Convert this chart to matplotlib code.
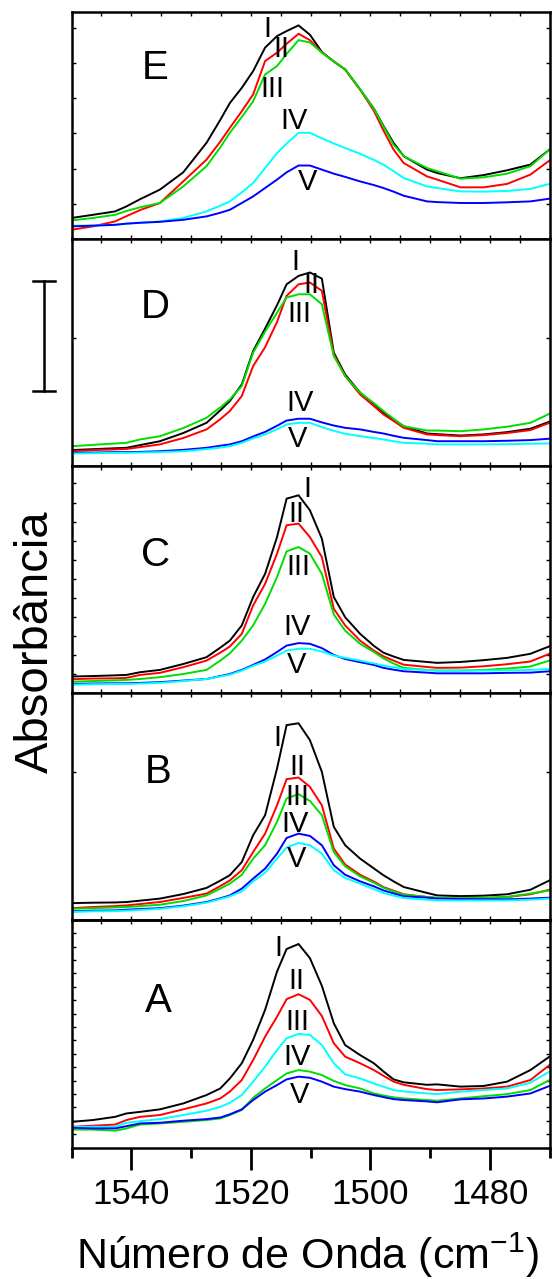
import matplotlib
matplotlib.use("Agg")
import matplotlib.pyplot as plt
from matplotlib.ticker import MultipleLocator, FixedLocator
from matplotlib.lines import Line2D

REG = "Liberation Sans"
plt.rcParams['font.family'] = [REG, 'DejaVu Sans']
plt.rcParams['mathtext.fontset'] = 'custom'
plt.rcParams['mathtext.rm'] = REG
plt.rcParams['mathtext.it'] = REG

# wavenumber grid (cm-1)
wn = [1550, 1546.4, 1542.7, 1540.8, 1538.5, 1535.2, 1531.3, 1527.4, 1525.1, 1523.5,
      1521.5, 1519.6, 1517.6, 1515.6, 1514.0, 1512.0, 1510.1, 1508.1, 1506.1, 1504.2,
      1501.7, 1499.4, 1497.8, 1496.1, 1494.4, 1490.5, 1488.8, 1484.9, 1481.0, 1477.1,
      1473.2, 1470.0]

# Panel E
E_black = [0.093,0.107,0.122,0.144,0.176,0.218,0.294,0.424,0.525,0.599,0.666,0.740,0.843,0.894,0.916,0.941,
           0.900,0.824,0.782,0.747,0.659,0.575,0.499,0.424,0.365,0.306,0.291,0.268,0.282,0.303,0.328,0.394]
E_red = [0.041,0.056,0.078,0.101,0.128,0.159,0.254,0.350,0.429,0.490,0.563,0.637,0.784,0.821,0.860,0.904,
         0.876,0.822,0.782,0.747,0.659,0.565,0.479,0.394,0.335,0.276,0.262,0.228,0.228,0.243,0.284,0.346]
E_green = [0.082,0.093,0.107,0.124,0.140,0.159,0.232,0.321,0.404,0.468,0.538,0.607,0.725,0.762,0.815,0.876,
           0.866,0.821,0.782,0.747,0.660,0.574,0.496,0.416,0.365,0.313,0.299,0.266,0.272,0.288,0.321,0.394]
E_cyan = [0.059,0.060,0.063,0.068,0.072,0.078,0.093,0.122,0.147,0.166,0.206,0.247,0.313,0.379,0.421,0.468,
          0.468,0.444,0.421,0.401,0.376,0.349,0.328,0.299,0.269,0.232,0.225,0.210,0.209,0.212,0.221,0.243]
E_blue = [0.056,0.059,0.063,0.068,0.072,0.076,0.085,0.100,0.116,0.129,0.159,0.188,0.225,0.262,0.294,0.324,
          0.324,0.306,0.288,0.274,0.254,0.238,0.225,0.209,0.191,0.166,0.163,0.159,0.159,0.162,0.166,0.178]

# Panel D
D_black = [0.071,0.075,0.079,0.081,0.093,0.110,0.146,0.191,0.246,0.287,0.360,0.507,0.606,0.709,0.801,0.838,
           0.853,0.826,0.500,0.404,0.324,0.274,0.235,0.206,0.176,0.144,0.141,0.135,0.140,0.150,0.165,0.196]
D_red = [0.066,0.071,0.074,0.076,0.084,0.096,0.124,0.162,0.207,0.243,0.309,0.441,0.524,0.635,0.750,0.801,
         0.809,0.772,0.493,0.397,0.316,0.265,0.228,0.199,0.169,0.140,0.137,0.132,0.137,0.146,0.159,0.191]
D_green = [0.088,0.094,0.100,0.103,0.118,0.132,0.168,0.213,0.259,0.294,0.353,0.500,0.593,0.676,0.743,0.757,
           0.757,0.713,0.485,0.397,0.324,0.278,0.243,0.209,0.176,0.157,0.157,0.154,0.162,0.174,0.191,0.231]
D_blue = [0.059,0.060,0.062,0.062,0.063,0.066,0.072,0.081,0.090,0.096,0.110,0.131,0.151,0.178,0.201,0.209,
          0.209,0.193,0.179,0.169,0.162,0.151,0.144,0.134,0.125,0.115,0.110,0.110,0.110,0.112,0.115,0.121]
D_cyan = [0.056,0.057,0.059,0.059,0.060,0.062,0.066,0.075,0.082,0.088,0.103,0.122,0.140,0.163,0.184,0.191,
          0.191,0.172,0.156,0.143,0.132,0.124,0.118,0.110,0.103,0.099,0.096,0.096,0.096,0.097,0.099,0.100]

# Panel C
C_black = [0.074,0.076,0.079,0.081,0.093,0.103,0.129,0.159,0.201,0.232,0.299,0.424,0.526,0.688,0.857,0.872,
           0.806,0.681,0.424,0.335,0.262,0.209,0.179,0.162,0.147,0.138,0.134,0.138,0.146,0.156,0.174,0.207]
C_red = [0.062,0.065,0.066,0.068,0.081,0.090,0.115,0.144,0.179,0.206,0.262,0.387,0.482,0.615,0.740,0.747,
         0.688,0.600,0.372,0.299,0.232,0.188,0.163,0.144,0.126,0.116,0.112,0.113,0.119,0.128,0.140,0.174]
C_green = [0.051,0.054,0.057,0.059,0.063,0.071,0.085,0.103,0.144,0.176,0.232,0.299,0.394,0.512,0.625,0.644,
           0.615,0.526,0.347,0.276,0.218,0.182,0.154,0.131,0.112,0.103,0.100,0.100,0.103,0.109,0.118,0.144]
C_blue = [0.041,0.043,0.044,0.044,0.046,0.049,0.056,0.063,0.076,0.085,0.103,0.125,0.149,0.182,0.210,0.221,
          0.218,0.199,0.169,0.151,0.137,0.125,0.112,0.104,0.097,0.091,0.088,0.088,0.088,0.090,0.091,0.097]
C_cyan = [0.038,0.040,0.041,0.041,0.043,0.046,0.054,0.063,0.074,0.082,0.100,0.121,0.140,0.166,0.188,0.196,
          0.196,0.184,0.166,0.156,0.144,0.132,0.122,0.115,0.107,0.103,0.100,0.100,0.100,0.101,0.103,0.107]

# Panel B
B_black = [0.076,0.078,0.079,0.081,0.087,0.096,0.116,0.143,0.175,0.199,0.257,0.375,0.463,0.669,0.860,0.868,
           0.794,0.654,0.412,0.331,0.272,0.229,0.199,0.172,0.147,0.121,0.110,0.107,0.109,0.115,0.135,0.176]
B_red = [0.054,0.059,0.063,0.066,0.072,0.081,0.099,0.118,0.151,0.176,0.221,0.301,0.382,0.507,0.622,0.629,
         0.588,0.507,0.316,0.246,0.201,0.171,0.147,0.131,0.115,0.103,0.099,0.097,0.099,0.103,0.115,0.135]
B_green = [0.051,0.054,0.057,0.059,0.063,0.069,0.085,0.110,0.140,0.162,0.201,0.272,0.331,0.434,0.537,0.556,
           0.526,0.463,0.301,0.238,0.194,0.166,0.144,0.128,0.113,0.103,0.099,0.097,0.099,0.103,0.118,0.132]
B_blue = [0.040,0.043,0.044,0.047,0.050,0.054,0.065,0.081,0.097,0.110,0.140,0.184,0.228,0.294,0.363,0.382,
          0.372,0.331,0.243,0.201,0.172,0.150,0.132,0.119,0.106,0.100,0.096,0.094,0.093,0.093,0.096,0.100]
B_cyan = [0.037,0.040,0.041,0.043,0.046,0.051,0.062,0.078,0.094,0.106,0.128,0.172,0.210,0.272,0.321,0.341,
          0.331,0.294,0.221,0.187,0.162,0.138,0.121,0.109,0.099,0.091,0.088,0.088,0.088,0.088,0.091,0.096]

# Panel A
A_black = [0.113,0.121,0.135,0.150,0.157,0.168,0.194,0.231,0.260,0.304,0.371,0.474,0.606,0.775,0.874,0.896,
           0.834,0.712,0.547,0.451,0.407,0.371,0.335,0.300,0.287,0.276,0.278,0.268,0.271,0.290,0.341,0.400]
A_red = [0.091,0.096,0.101,0.121,0.135,0.143,0.168,0.194,0.216,0.246,0.297,0.385,0.488,0.576,0.653,0.675,
         0.650,0.579,0.459,0.400,0.371,0.341,0.316,0.290,0.276,0.257,0.253,0.256,0.260,0.268,0.297,0.363]
A_cyan = [0.091,0.091,0.091,0.109,0.116,0.125,0.143,0.162,0.179,0.197,0.231,0.290,0.356,0.429,0.481,0.500,
          0.496,0.451,0.371,0.322,0.304,0.282,0.268,0.253,0.247,0.238,0.235,0.246,0.253,0.260,0.285,0.334]
A_green = [0.079,0.079,0.074,0.084,0.101,0.106,0.113,0.121,0.128,0.143,0.165,0.219,0.260,0.297,0.326,0.341,
           0.334,0.319,0.293,0.275,0.260,0.238,0.229,0.221,0.216,0.209,0.206,0.216,0.226,0.235,0.253,0.297]
A_blue = [0.087,0.084,0.084,0.094,0.106,0.109,0.118,0.125,0.132,0.146,0.168,0.209,0.246,0.275,0.300,0.312,
          0.307,0.290,0.268,0.257,0.246,0.231,0.222,0.213,0.209,0.203,0.199,0.212,0.216,0.224,0.238,0.271]

K, R, G, CY, BL = 'black', '#ff0000', '#00dd00', '#00ffff', '#0000ff'

panels = [
    ('E', [(E_black, K), (E_red, R), (E_green, G), (E_cyan, CY), (E_blue, BL)],
     [('I', 1517.2, 0.926), ('II', 1514.8, 0.835), ('III', 1516.3, 0.662), ('IV', 1512.8, 0.519), ('V', 1510.5, 0.25)],
     (1536.0, 0.754), MultipleLocator(0.155)),
    ('D', [(D_black, K), (D_red, R), (D_green, G), (D_blue, BL), (D_cyan, CY)],
     [('I', 1512.5, 0.897), ('II', 1509.9, 0.797), ('III', 1511.8, 0.672), ('IV', 1511.8, 0.279), ('V', 1512.2, 0.118)],
     (1536.0, 0.699), FixedLocator([0.566])),
    ('C', [(C_black, K), (C_red, R), (C_green, G), (C_blue, BL), (C_cyan, CY)],
     [('I', 1510.5, 0.901), ('II', 1512.4, 0.791), ('III', 1512.1, 0.556), ('IV', 1512.3, 0.291), ('V', 1512.3, 0.126)],
     (1535.9, 0.607), MultipleLocator(0.084)),
    ('B', [(B_black, K), (B_red, R), (B_green, G), (B_blue, BL), (B_cyan, CY)],
     [('I', 1515.5, 0.801), ('II', 1512.2, 0.676), ('III', 1512.2, 0.544), ('IV', 1512.6, 0.426), ('V', 1512.4, 0.272)],
     (1535.5, 0.654), FixedLocator([0.654])),
    ('A', [(A_black, K), (A_red, R), (A_cyan, CY), (A_green, G), (A_blue, BL)],
     [('I', 1515.4, 0.878), ('II', 1512.3, 0.731), ('III', 1512.2, 0.554), ('IV', 1512.2, 0.40), ('V', 1511.8, 0.231)],
     (1535.5, 0.643), MultipleLocator(0.059)),
]

W, H = 552, 1279
fig = plt.figure(figsize=(W / 100, H / 100), dpi=100)
left, right = 71.5 / W, 549.5 / W
top, bottom = 1 - 12 / H, 1 - 1147.5 / H
gs = fig.add_gridspec(5, 1, left=left, right=right, top=top, bottom=bottom, hspace=0)

for i, (name, series, labels, letter_pos, yloc) in enumerate(panels):
    ax = fig.add_subplot(gs[i, 0])
    for vals, col in series:
        assert len(vals) == len(wn)
        ax.plot(wn, vals, color=col, lw=1.4, solid_joinstyle='miter')
    ax.set_xlim(1550, 1470)
    ax.set_ylim(0, 1)
    for s in ax.spines.values():
        s.set_linewidth(1.8)
    ax.yaxis.set_major_locator(yloc)
    ax.tick_params(axis='y', which='both', direction='in', left=True, right=True,
                   labelleft=False, length=3, width=1)
    if name != 'A':
        ax.xaxis.set_major_locator(MultipleLocator(5))
        ax.tick_params(axis='x', which='both', direction='in', top=True, bottom=True,
                       labelbottom=False, length=3, width=1)
    else:
        ax.set_xticks([1540, 1520, 1500, 1480])
        ax.set_xticklabels(['1540', '1520', '1500', '1480'])
        ax.xaxis.set_minor_locator(MultipleLocator(10))
        ax.tick_params(axis='x', which='major', direction='out', length=16, width=2,
                       labelsize=25, pad=6, top=False)
        ax.tick_params(axis='x', which='minor', direction='out', length=7, width=2, top=False)
        sec = ax.secondary_xaxis('top')
        sec.xaxis.set_major_locator(MultipleLocator(5))
        sec.tick_params(axis='x', direction='in', length=3, width=1, labeltop=False)
        sec.spines['top'].set_linewidth(1.8)
    ax.text(letter_pos[0], letter_pos[1], name, fontsize=29, ha='center', va='center')
    for txt, x, y in labels:
        ax.text(x, y, txt, fontsize=21, ha='center', va='center')

# scale bar
bx = 44 / W
fig.add_artist(Line2D([bx, bx], [1 - 281 / H, 1 - 391 / H], color='black', lw=1.8, transform=fig.transFigure))
for yy in (281, 391):
    fig.add_artist(Line2D([33 / W, 55 / W], [1 - yy / H, 1 - yy / H], color='black', lw=1.8,
                          transform=fig.transFigure))

fig.text(36 / W, 1 - 642 / H, 'Absorbância', rotation=90, fontsize=34, ha='center', va='center')
fig.text(307 / W, 1 - 1269 / H, r'Número de Onda (cm$^{\mathregular{-1}}$)', fontsize=31,
         ha='center', va='baseline')

fig.savefig('out.png', dpi=100)
